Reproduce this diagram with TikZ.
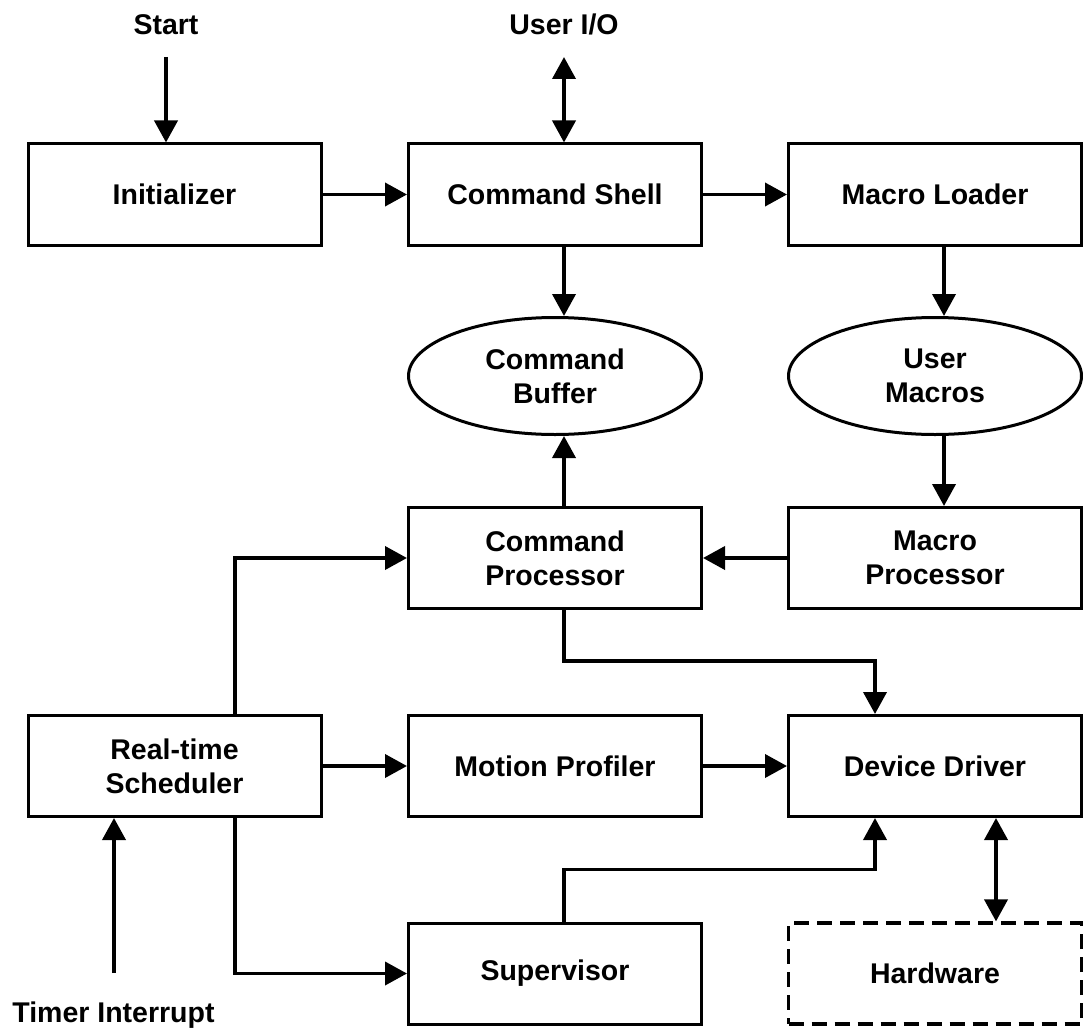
\documentclass[tikz,border=0pt]{standalone}
\usepackage{fontspec}
\setmainfont{Liberation Sans}
\usetikzlibrary{positioning,shapes,arrows.meta}

\begin{document}
\begin{tikzpicture}[x=1pt,y=-1pt,
	txt/.style={font=\bfseries\fontsize{28.5}{34}\selectfont},
	blk/.style={txt,draw,line width=3pt,minimum width=293pt,minimum height=101pt,inner sep=0pt,align=center},
	store/.style={blk,ellipse,minimum height=117pt},
	hwblk/.style={blk,line width=3.2pt,dash pattern=on 15pt off 8pt},
	lbl/.style={txt,inner sep=0pt,anchor=base},
	wire/.style={line width=3.8pt,-{Triangle[length=22pt,width=23pt]}},
	dwire/.style={line width=3.8pt,{Triangle[length=22pt,width=23pt]}-{Triangle[length=22pt,width=23pt]}}]
			\useasboundingbox (0,0) rectangle (1083,1027);
			\node[lbl] (start) at (166,35) {Start};
			\node[lbl] (uio) at (564,35) {User I/O};
			\node[lbl] (timer) at (113.5,1022) {Timer Interrupt};
			\node[blk] (init) at (174.5,194.5) {Initializer};
			\node[blk] (shell) at (555,194.5) {Command Shell};
			\node[blk] (loader) at (935,194.5) {Macro Loader};
			\node[store] (cbuf) at (555,376) {Command\\Buffer};
			\node[store] (umac) at (935,376) {User\\Macros};
			\node[blk] (cproc) at (555,558) {Command\\Processor};
			\node[blk] (mproc) at (935,558) {Macro\\Processor};
			\node[blk] (sched) at (174.5,766) {Real-time\\Scheduler};
			\node[blk] (prof) at (555,766) {Motion Profiler};
			\node[blk] (drv) at (935,766) {Device Driver};
			\node[blk] (sup) at (555,973.5) {Supervisor};
			\node[hwblk] (hw) at (935,973.5) {Hardware};
			\coordinate (sin) at (166,57);
			\coordinate (uin) at (564,57);
			\coordinate (tin) at (114,973);
			\draw[wire] (sin) -- (sin |- init.north);
			\draw[dwire] (uin) -- (uin |- shell.north);
			\draw[wire] (tin) -- (tin |- sched.south);
			\draw[wire] (init) -- (shell);
			\draw[wire] (shell) -- (loader);
			\draw[wire] ([xshift=9pt]shell.south) -- ([xshift=9pt]cbuf.north);
			\draw[wire] ([xshift=9pt]loader.south) -- ([xshift=9pt]umac.north);
			\draw[wire] ([xshift=9pt]umac.south) -- ([xshift=9pt]mproc.north);
			\draw[wire] ([xshift=9pt]cproc.north) -- ([xshift=9pt]cbuf.south);
			\draw[wire] (mproc) -- (cproc);
			\draw[wire] (sched) -- (prof);
			\draw[wire] (prof) -- (drv);
			\draw[wire] ([xshift=60.5pt]sched.north) |- (cproc.west);
			\draw[wire] ([xshift=60.5pt]sched.south) |- (sup.west);
			\draw[wire] ([xshift=9pt]cproc.south) -- ++(0,51) -| ([xshift=-60pt]drv.north);
			\draw[wire] ([xshift=9pt]sup.north) -- ++(0,-52) -| ([xshift=-60pt]drv.south);
			\draw[dwire] ([xshift=61pt]drv.south) -- ([xshift=61pt]hw.north);
		\end{tikzpicture}
\end{document}
